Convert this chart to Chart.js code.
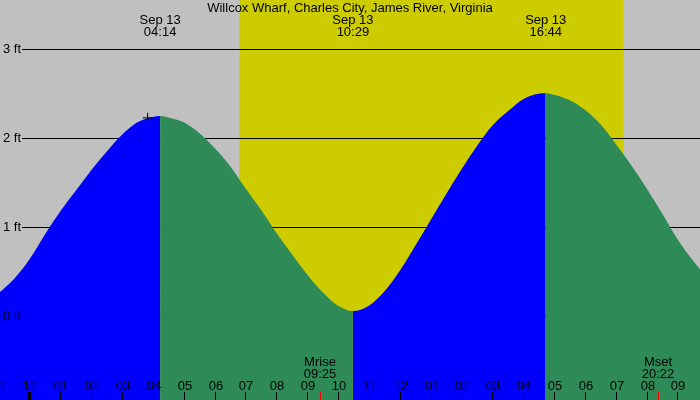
<!DOCTYPE html>
<html>
<head>
<meta charset="utf-8">
<title>Willcox Wharf tide</title>
<script src="https://cdn.jsdelivr.net/npm/chart.js@4.4.0/dist/chart.umd.min.js"></script>
<style>
  html, body { margin: 0; padding: 0; background: #c0c0c0; overflow: hidden; }
  canvas { display: block; }
</style>
</head>
<body>
<canvas id="tideChart" width="700" height="400"></canvas>
<script>
// station + events
const stationName = "Willcox Wharf, Charles City, James River, Virginia"
const dateLabel = "Sep 13"
const extremeTimes = ["04:14", "10:29", "16:44"]
const sunTimes = ["06:48", "19:15"]
const moonNames = ["Mrise", "Mset"]
const moonTimes = ["09:25", "20:22"]

// axis ticks
const footTicks = [0, 1, 2, 3]
const hourTicks = [-1, 0, 1, 2, 3, 4, 5, 6, 7, 8, 9, 10, 11, 12, 13, 14, 15, 16, 17, 18, 19, 20, 21]
const hourLabels = ["11", "12", "01", "02", "03", "04", "05", "06", "07", "08", "09", "10",
                    "11", "12", "01", "02", "03", "04", "05", "06", "07", "08", "09"]

// tide height (ft) against hours from midnight Sep 13
const tideHours = [-1, -0.5, 0, 0.5, 1, 1.5, 2, 2.5, 3, 3.5, 4, 4.233, 4.5, 5, 5.5, 6, 6.5, 7, 7.5,
                   8, 8.5, 9, 9.5, 10, 10.483, 11, 11.5, 12, 12.5, 13, 13.5, 14, 14.5, 15, 15.5, 16,
                   16.5, 16.733, 17, 17.5, 18, 18.5, 19, 19.5, 20, 20.5, 21, 21.5, 22]
const tideFeet = [0.26, 0.42, 0.64, 0.92, 1.18, 1.41, 1.64, 1.85, 2.04, 2.18, 2.24, 2.25, 2.235, 2.18, 2.06,
                  1.89, 1.69, 1.44, 1.20, 0.94, 0.70, 0.47, 0.27, 0.12, 0.06, 0.12, 0.28, 0.51, 0.79,
                  1.08, 1.37, 1.65, 1.91, 2.14, 2.30, 2.44, 2.50, 2.506, 2.49, 2.43, 2.32, 2.16, 1.94,
                  1.70, 1.44, 1.16, 0.87, 0.63, 0.42]

// the little "+" mark
const markerHour = 3.83
const markerFeet = 2.23

const FONT = "13px 'Liberation Sans', Arial, sans-serif"
const NIGHT = "#c0c0c0"
const DAY = "#cccc00"
const FLOOD = "#0000ff"
const EBB = "#2e8b57"

function toHours(s) {
  const p = s.split(":")
  return parseInt(p[0], 10) + parseInt(p[1], 10) / 60
}

const extremeHours = extremeTimes.map(toHours)
const tidePoints = tideHours.map((h, i) => ({ x: h, y: tideFeet[i] }))

const decorations = {
  id: "decorations",
  beforeDraw(chart) {
    const ctx = chart.ctx
    const xs = chart.scales.x
    ctx.save()
    ctx.fillStyle = NIGHT
    ctx.fillRect(0, 0, chart.width, chart.height)
    const x1 = xs.getPixelForValue(toHours(sunTimes[0]))
    const x2 = xs.getPixelForValue(toHours(sunTimes[1]))
    ctx.fillStyle = DAY
    ctx.fillRect(x1, 0, x2 - x1, chart.height)
    ctx.restore()
  },
  beforeDatasetsDraw(chart) {
    const ctx = chart.ctx
    const ys = chart.scales.y
    ctx.save()
    ctx.strokeStyle = "#000"
    ctx.lineWidth = 1
    footTicks.forEach(f => {
      const y = Math.round(ys.getPixelForValue(f)) + 0.5
      ctx.beginPath()
      ctx.moveTo(22, y)
      ctx.lineTo(chart.width, y)
      ctx.stroke()
    })
    ctx.restore()
  },
  afterDatasetsDraw(chart) {
    const ctx = chart.ctx
    const xs = chart.scales.x
    const ys = chart.scales.y
    const H = chart.height
    ctx.save()
    ctx.font = FONT
    ctx.fillStyle = "#000"

    // foot labels
    ctx.textAlign = "left"
    ctx.textBaseline = "middle"
    footTicks.forEach(f => {
      ctx.fillText(f + " ft", 3, ys.getPixelForValue(f) + 0.5)
    })

    // title and high/low times
    ctx.textAlign = "center"
    ctx.textBaseline = "alphabetic"
    ctx.fillText(stationName, 350, 12)
    extremeTimes.forEach((t, i) => {
      const x = xs.getPixelForValue(extremeHours[i])
      ctx.fillText(dateLabel, x, 24)
      ctx.fillText(t, x, 36)
    })

    // hour ticks along the bottom
    ctx.strokeStyle = "#000"
    hourTicks.forEach((h, i) => {
      const x = Math.round(xs.getPixelForValue(h))
      ctx.lineWidth = (h % 24 === 0) ? 3 : 1
      ctx.beginPath()
      ctx.moveTo(x + 0.5, H - 8)
      ctx.lineTo(x + 0.5, H)
      ctx.stroke()
      ctx.fillText(hourLabels[i], x + 1, 390)
    })

    // moon rise / set
    moonTimes.forEach((t, i) => {
      const x = Math.round(xs.getPixelForValue(toHours(t)))
      ctx.strokeStyle = "#ff0000"
      ctx.lineWidth = 1
      ctx.beginPath()
      ctx.moveTo(x + 0.5, H - 8)
      ctx.lineTo(x + 0.5, H)
      ctx.stroke()
      ctx.fillText(moonNames[i], x, 366)
      ctx.fillText(t, x, 378)
    })
    ctx.restore()
  }
}

new Chart(document.getElementById("tideChart"), {
  type: "line",
  data: {
    datasets: [{
      data: [{ x: markerHour, y: markerFeet }],
      showLine: false,
      pointStyle: "cross",
      pointRadius: 5,
      borderColor: "#000",
      borderWidth: 1,
      fill: false
    }, {
      data: tidePoints,
      backgroundColor: FLOOD,
      borderWidth: 0,
      pointRadius: 0,
      fill: "start",
      cubicInterpolationMode: "monotone",
      // rising water blue, falling water green
      segment: {
        backgroundColor: c => c.p1.parsed.y >= c.p0.parsed.y ? FLOOD : EBB
      }
    }]
  },
  options: {
    responsive: false,
    devicePixelRatio: 1,
    animation: false,
    layout: { padding: 0, autoPadding: false },
    plugins: { legend: { display: false }, tooltip: { enabled: false } },
    scales: {
      x: { type: "linear", display: false, min: -0.956, max: 21.734 },
      y: { type: "linear", display: false, min: -0.94, max: 3.554 }
    }
  },
  plugins: [decorations]
})
</script>
</body>
</html>
